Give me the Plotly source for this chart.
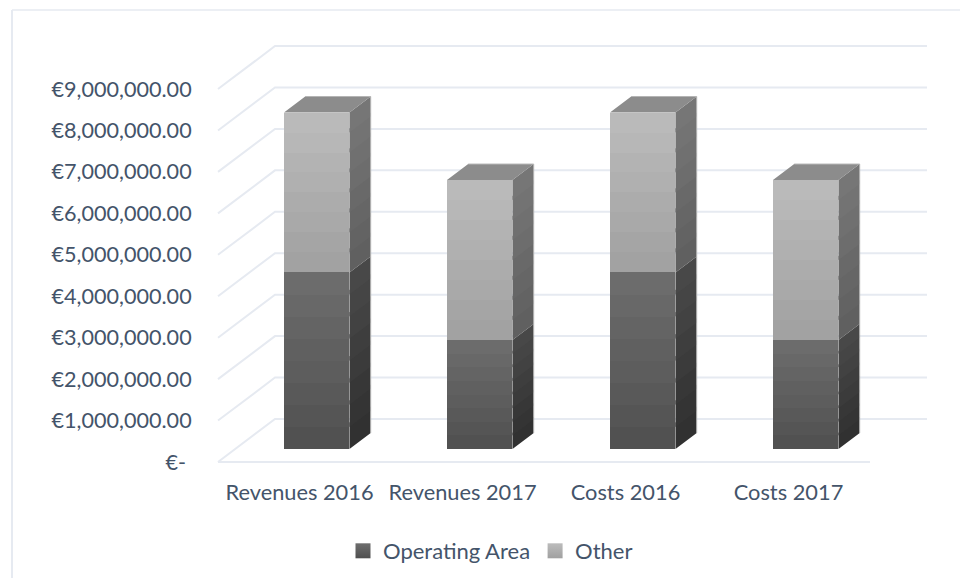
import plotly.graph_objects as go

categories = ["Revenues 2016", "Revenues 2017", "Costs 2016", "Costs 2017"]
operating_area = [4260000, 2630000, 4260000, 2630000]
other = [3860000, 3860000, 3860000, 3860000]
tick_values = [0, 1000000, 2000000, 3000000, 4000000, 5000000, 6000000, 7000000, 8000000, 9000000]
tick_labels = ["€-\u00a0", "€1,000,000.00", "€2,000,000.00", "€3,000,000.00", "€4,000,000.00",
               "€5,000,000.00", "€6,000,000.00", "€7,000,000.00", "€8,000,000.00", "€9,000,000.00"]

FONT = "Lato"
TEXT = "#44546a"
GRID = "#e6eaf1"
W, H = 960, 578
PL, PR, PT, PB = 214, 931, 40, 470
UNIT_X = 163.0
UNIT_Y = 41.44 / 1e6
X0_PX = 299.5
Y0_PX = 462.0
DX = 57 / UNIT_X            # full depth, in category units
DY = 43 / UNIT_Y            # full depth, in value units
BAR_W = 65.5 / UNIT_X
D_FRONT, D_BACK = 13 / 43, 29 / 43
N_BANDS = 8


def px(c, v, d):
    return c + d * DX, v + d * DY


def lerp(a, b, t):
    return tuple(round(a[i] + (b[i] - a[i]) * t) for i in range(3))


def rgb(c):
    return f"rgb({c[0]},{c[1]},{c[2]})"


def xr(p):
    return (p - X0_PX) / UNIT_X


def yr(p):
    return (Y0_PX - p) / UNIT_Y


def xp(p):
    return (p - PL) / (PR - PL)


def yp(p):
    return (PB - p) / (PB - PT)


fig = go.Figure()

# walls and floor gridlines, below the bars
shapes = []
for v in tick_values:
    a, b, e = px(-0.5, v, 0), px(-0.5, v, 1), px(3.5, v, 1)
    shapes.append(dict(type="path", xref="x", yref="y", layer="below",
                       path=f"M{a[0]},{a[1]} L{b[0]},{b[1]} L{e[0]},{e[1]}",
                       line=dict(color=GRID, width=2)))
a, b = px(-0.5, 0, 0), px(3.5, 0, 0)
shapes.append(dict(type="line", xref="x", yref="y", layer="below", x0=a[0], y0=a[1], x1=b[0], y1=b[1],
                   line=dict(color=GRID, width=2)))

series = [
    ("Operating Area", operating_area, (110, 110, 110), (79, 79, 79), (74, 74, 74), (47, 47, 47)),
    ("Other", other, (188, 188, 188), (160, 160, 160), (120, 120, 120), (94, 94, 94)),
]

bases = [0] * len(categories)
for name, vals, f_top, f_bot, s_top, s_bot in series:
    bx, bb, bh, bc = [], [], [], []
    side = {k: ([], []) for k in range(N_BANDS)}
    for i, val in enumerate(vals):
        step = val / N_BANDS
        for k in range(N_BANDS):
            lo = bases[i] + k * step
            t = (k + 0.5) / N_BANDS
            cx, ly = px(i, lo, D_FRONT)
            bx.append(cx)
            bb.append(ly)
            bh.append(step * 1.02 if k < N_BANDS - 1 else step)
            bc.append(rgb(lerp(f_bot, f_top, t)))
            r = i + BAR_W / 2
            # each band runs a little under the next one so no seam shows
            hi = lo + (step * 1.2 if k < N_BANDS - 1 else step)
            p = [px(r, lo, D_FRONT), px(r, hi, D_FRONT), px(r, hi, D_BACK), px(r, lo, D_BACK), px(r, lo, D_FRONT)]
            side[k][0].extend([q[0] for q in p] + [None])
            side[k][1].extend([q[1] for q in p] + [None])
        bases[i] += val
    for k in range(N_BANDS):
        c = rgb(lerp(s_bot, s_top, (k + 0.5) / N_BANDS))
        fig.add_trace(go.Scatter(x=side[k][0], y=side[k][1], mode="none", fill="toself", fillcolor=c,
                                 showlegend=False, hoverinfo="skip"))
    fig.add_trace(go.Bar(x=bx, y=bh, base=bb, width=BAR_W, marker=dict(color=bc, line=dict(width=0)),
                         showlegend=False, hoverinfo="skip"))

# top faces and the faint outer edge of each bar
tx, ty, ex, ey = [], [], [], []
for i, top in enumerate(bases):
    l, r = i - BAR_W / 2, i + BAR_W / 2
    p = [px(l, top, D_FRONT), px(r, top, D_FRONT), px(r, top, D_BACK), px(l, top, D_BACK), px(l, top, D_FRONT)]
    tx.extend([q[0] for q in p] + [None])
    ty.extend([q[1] for q in p] + [None])
    e = [px(l, top, D_BACK), px(r, top, D_BACK), px(r, 0, D_BACK)]
    ex.extend([q[0] for q in e] + [None])
    ey.extend([q[1] for q in e] + [None])
fig.add_trace(go.Scatter(x=tx, y=ty, mode="none", fill="toself", fillcolor="#8c8c8c",
                         showlegend=False, hoverinfo="skip"))
fig.add_trace(go.Scatter(x=ex, y=ey, mode="lines", line=dict(color="#b4b4b4", width=1),
                         showlegend=False, hoverinfo="skip"))

# legend entries
for name, top, bot in [("Operating Area", "#6e6e6e", "#4f4f4f"), ("Other", "#bcbcbc", "#a0a0a0")]:
    fig.add_trace(go.Scatter(x=[None], y=[None], mode="markers", name=name,
                             marker=dict(symbol="square", size=15, color=top,
                                         gradient=dict(type="vertical", color=bot), line=dict(width=0))))

shapes += [
    dict(type="line", xref="paper", yref="paper", x0=xp(12), x1=xp(12), y0=yp(10), y1=yp(578),
         line=dict(color=GRID, width=2)),
    dict(type="line", xref="paper", yref="paper", x0=xp(12), x1=xp(960), y0=yp(10), y1=yp(10),
         line=dict(color=GRID, width=1.5)),
]

fig.update_layout(
    width=W, height=H, barmode="overlay", bargap=0,
    margin=dict(l=PL, r=W - PR, t=PT, b=H - PB, pad=0, autoexpand=False),
    paper_bgcolor="white", plot_bgcolor="white",
    font=dict(family=FONT, size=21.6, color=TEXT),
    xaxis=dict(range=[xr(PL), xr(PR)], tickmode="array", tickvals=list(range(4)), ticktext=categories,
               tickfont=dict(size=21.8),
               showgrid=False, zeroline=False, showline=False, ticks="outside", ticklen=3,
               tickcolor="rgba(0,0,0,0)"),
    yaxis=dict(range=[yr(PB), yr(PT)], tickmode="array", tickvals=tick_values, ticktext=tick_labels,
               showgrid=False, zeroline=False, showline=False, ticks="outside", ticklen=17,
               tickcolor="rgba(0,0,0,0)"),
    legend=dict(orientation="h", x=xp(343), y=yp(551), xanchor="left", yanchor="middle",
                bgcolor="rgba(0,0,0,0)", font=dict(family=FONT, size=22, color=TEXT)),
    shapes=shapes,
)

fig.write_html("out.html", config={"displayModeBar": False},
               post_script="document.body.style.margin='0';document.documentElement.style.overflow='hidden';")
